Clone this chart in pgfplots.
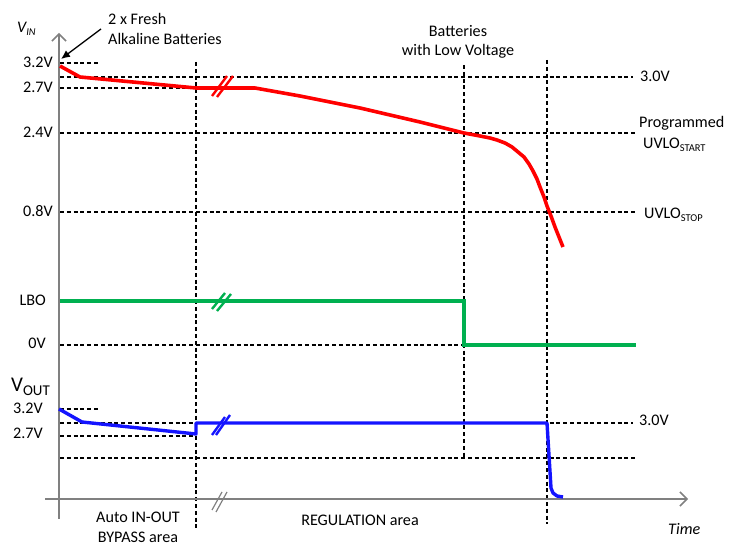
\documentclass[border=0pt]{standalone}
\usepackage{pgfplots}
\pgfplotsset{compat=1.18}
\usepackage{fontspec}
\setmainfont{Carlito}
\usetikzlibrary{arrows.meta}

\definecolor{vin}{RGB}{255,0,0}
\definecolor{lbo}{RGB}{0,176,80}
\definecolor{vout}{RGB}{20,20,255}
\definecolor{axgray}{RGB}{128,128,128}

% lowered small text for subscripts
\newcommand\sub[3]{\raisebox{-#2bp}{\fontsize{#1}{#1}\selectfont #3}}

\begin{document}
\begin{tikzpicture}[font=\fontsize{16.2}{19}\selectfont,every node/.append style={inner sep=0pt}]
\begin{axis}[width=735bp,height=550bp,scale only axis,
  xmin=0,xmax=735,ymin=0,ymax=550,y dir=reverse,
  hide axis,clip=false,
  ref/.style={black,line width=1.2bp,dash pattern=on 4bp off 2.8bp},
  brk/.style={line width=2.4bp},
  ]
\path (axis cs:0,0) rectangle (axis cs:735,550);

% reference lines
\addplot[ref] coordinates {(60,63) (100,63)};
\addplot[ref] coordinates {(60,77) (633,77)};
\addplot[ref] coordinates {(60,88) (220,88)};
\addplot[ref] coordinates {(60,133) (636,133)};
\addplot[ref] coordinates {(60,212) (636,212)};
\addplot[ref] coordinates {(60,345) (545,345)};
\addplot[ref] coordinates {(60,409) (100,409)};
\addplot[ref] coordinates {(60,423) (633,423)};
\addplot[ref] coordinates {(60,436) (196,436)};
\addplot[ref] coordinates {(60,458) (636,458)};
\addplot[ref] coordinates {(196,62) (196,528)};
\addplot[ref] coordinates {(464,65) (464,458)};
\addplot[ref] coordinates {(547,60) (547,524)};

% axes
\addplot[axgray,line width=1.5bp,-{Straight Barb[length=7bp,width=14bp,line width=1.5bp]}]
  coordinates {(59,519) (59,33)};
\addplot[axgray,line width=1.5bp,-{Straight Barb[length=7bp,width=14bp,line width=1.5bp]}]
  coordinates {(45,499) (688,499)};
\addplot[axgray,line width=1.2bp] coordinates {(212,510) (222,492)};
\addplot[axgray,line width=1.2bp] coordinates {(216,512) (227,492)};

% V_IN
\addplot[vin,line width=3.6bp,line join=round] coordinates {
  (60,66) (80,77) (196,88) (255,88) (300,96) (360,108) (420,122) (464,133)
  (480,136) (490,138) (497,140) (505,143) (512,147) (518,152) (524,157)
  (529,164) (533,171) (537,179) (540,187) (544,197) (547,206) (551,216)
  (555,227) (563,247)};
\addplot[vin,brk] coordinates {(212,96) (227,76)};
\addplot[vin,brk] coordinates {(217,97) (233,76)};

% LBO
\addplot[lbo,line width=3.2bp] coordinates {(60,301) (464,301) (464,345) (636,345)};
\addplot[lbo,brk] coordinates {(212,309) (225,293)};
\addplot[lbo,brk] coordinates {(217,311) (231,294)};

% V_OUT
\addplot[vout,line width=3.4bp,line join=round] coordinates {
  (59,409) (82,422) (196,434) (196,423) (547,423) (551,488) (553,493) (557,496) (563,497)};
\addplot[vout,brk] coordinates {(212,435) (225,417)};
\addplot[vout,brk] coordinates {(216,435) (230,415)};

% callout arrow
\addplot[black,line width=1.3bp,-{Latex[length=9bp,width=8bp]}] coordinates {(101,29) (61,59)};

% left labels
\node[anchor=base west] at (axis cs:17,33) {\itshape V\sub{10.5}{3}{IN}};
\node[anchor=base east] at (axis cs:53,68) {3.2V};
\node[anchor=base east] at (axis cs:53,93) {2.7V};
\node[anchor=base east] at (axis cs:53,138) {2.4V};
\node[anchor=base east] at (axis cs:53,217) {0.8V};
\node[anchor=base east] at (axis cs:46,306) {LBO};
\node[anchor=base east] at (axis cs:46,349) {0V};
\node[anchor=base west] at (axis cs:11,392) {\fontsize{21}{21}\selectfont V\sub{15}{4}{OUT}};
\node[anchor=base east] at (axis cs:43,414) {3.2V};
\node[anchor=base east] at (axis cs:43,439) {2.7V};

% top texts
\node[anchor=base west] at (axis cs:108,25) {2 x Fresh};
\node[anchor=base west] at (axis cs:108,45) {Alkaline Batteries};
\node[anchor=base] at (axis cs:458,37) {Batteries};
\node[anchor=base] at (axis cs:458,56) {with Low Voltage};

% right texts
\node[anchor=base west] at (axis cs:640,82) {3.0V};
\node[anchor=base west] at (axis cs:639,128) {Programmed};
\node[anchor=base west] at (axis cs:643,149) {UVLO\sub{10.5}{3}{START}};
\node[anchor=base west] at (axis cs:644,219) {UVLO\sub{10.5}{3}{STOP}};
\node[anchor=base west] at (axis cs:639,426) {3.0V};

% bottom texts
\node[anchor=base] at (axis cs:138,523) {Auto IN-OUT};
\node[anchor=base] at (axis cs:138,543) {BYPASS area};
\node[anchor=base] at (axis cs:360,526) {REGULATION area};
\node[anchor=base west] at (axis cs:668,535) {\itshape Time};
\end{axis}
\end{tikzpicture}
\end{document}
